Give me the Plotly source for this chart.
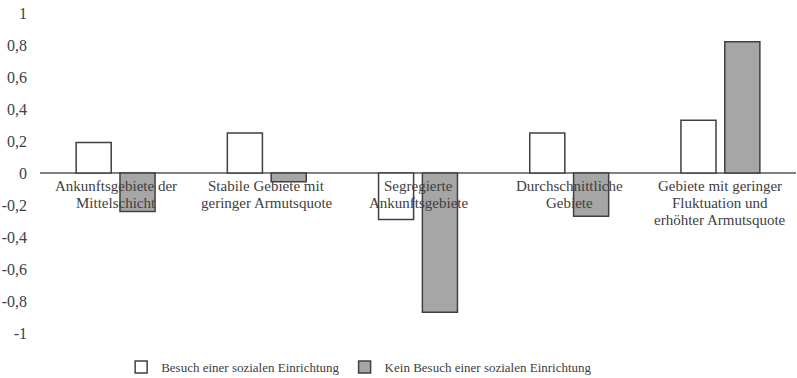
import plotly.graph_objects as go

categories = [
    "Ankunftsgebiete der<br>Mittelschicht",
    "Stabile Gebiete mit<br>geringer Armutsquote",
    "Segregierte<br>Ankunftsgebiete",
    "Durchschnittliche<br>Gebiete",
    "Gebiete mit geringer<br>Fluktuation und<br>erhöhter Armutsquote",
]
besuch = [0.19, 0.25, -0.29, 0.25, 0.33]
kein_besuch = [-0.24, -0.055, -0.87, -0.27, 0.82]

tick_vals = [1, 0.8, 0.6, 0.4, 0.2, 0, -0.2, -0.4, -0.6, -0.8, -1]
tick_text = ["1", "0,8", "0,6", "0,4", "0,2", "0", "-0,2", "-0,4", "-0,6", "-0,8", "-1"]

FONT = "Times New Roman, Liberation Serif, serif"
TXT = "#404040"

fig = go.Figure()
fig.add_bar(x=categories, y=besuch, name="Besuch einer sozialen Einrichtung",
            marker=dict(color="white", line=dict(color="#404040", width=1.5)))
fig.add_bar(x=categories, y=kein_besuch, name="Kein Besuch einer sozialen Einrichtung",
            marker=dict(color="#a6a6a6", line=dict(color="#404040", width=1.5)))

# category labels sit on the zero line, one annotation per line (tighter spacing)
for cat in categories:
    for i, line in enumerate(cat.split("<br>")):
        fig.add_annotation(x=cat, y=0, xref="x", yref="y", text=line, showarrow=False,
                           yanchor="top", yshift=-3 - 17 * i, align="center",
                           font=dict(family=FONT, size=15, color=TXT))

fig.update_layout(
    width=797, height=378,
    margin=dict(l=40, r=1, t=13, b=45),
    plot_bgcolor="white", paper_bgcolor="white",
    font=dict(family=FONT, size=15, color=TXT),
    barmode="group", bargap=0.42, bargroupgap=0.2,
    showlegend=True,
    legend=dict(orientation="h", xref="container", yref="container",
                x=0.152, xanchor="left", y=0.029, yanchor="middle",
                font=dict(family=FONT, size=13, color=TXT), itemwidth=30),
)
fig.update_xaxes(showticklabels=False, showline=False, showgrid=False, automargin=False)
fig.update_yaxes(range=[-1, 1], tickvals=tick_vals, ticktext=tick_text,
                 showgrid=False, showline=False, zeroline=True,
                 zerolinecolor="#808080", zerolinewidth=1.5, automargin=False,
                 ticklabelstandoff=12, tickfont=dict(family=FONT, size=16, color=TXT))

# drop the browser's default 8px body margin so the figure fills the window
fig.write_html("out.html", config={"displayModeBar": False},
               post_script="document.body.style.margin='0px';")
